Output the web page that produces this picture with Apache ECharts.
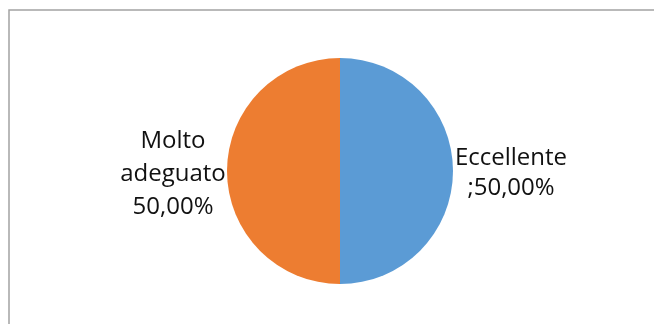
<!DOCTYPE html>
<html>
<head>
<meta charset="utf-8">
<script src="https://cdn.jsdelivr.net/npm/echarts@6/dist/echarts.min.js"></script>
<style>
  html, body { margin: 0; padding: 0; background: #fff; }
  #chart { width: 654px; height: 324px; }
</style>
</head>
<body>
<div id="chart"></div>
<script>
const categories = ['Eccellente', 'Molto adeguato'];
const values = [50, 50];
const labelTexts = ['Eccellente\n;50,00%', 'Molto\nadeguato\n50,00%'];
const colors = ['#5B9BD5', '#ED7D31'];

const chart = echarts.init(document.getElementById('chart'), null, { renderer: 'canvas' });

const option = {
  animation: false,
  backgroundColor: '#ffffff',
  graphic: [{
    type: 'rect',
    shape: { x: 9, y: 10, width: 700, height: 400 },
    style: { fill: 'none', stroke: '#a3a3a3', lineWidth: 1.5 },
    silent: true
  }],
  series: [{
    type: 'pie',
    center: [340, 171],
    radius: 113,
    startAngle: 90,
    clockwise: true,
    data: categories.map((c, i) => ({
      name: c,
      value: values[i],
      itemStyle: { color: colors[i] },
      label: { formatter: labelTexts[i], lineHeight: i === 0 ? 30 : 33 }
    })),
    itemStyle: { borderWidth: 0 },
    label: {
      show: true,
      position: 'outside',
      fontFamily: 'Open Sans',
      fontSize: 24,
      color: '#111',
      align: 'center'
    },
    labelLine: { show: false },
    labelLayout: function (params) {
      const r = params.rect;
      if (params.dataIndex === 0) {
        return { x: r.x + r.width + 58, y: r.y + r.height / 2 + 2, align: 'center', verticalAlign: 'middle' };
      }
      return { x: r.x - 54, y: r.y + r.height / 2 + 3, align: 'center', verticalAlign: 'middle' };
    }
  }]
};
chart.setOption(option);
</script>
</body>
</html>
